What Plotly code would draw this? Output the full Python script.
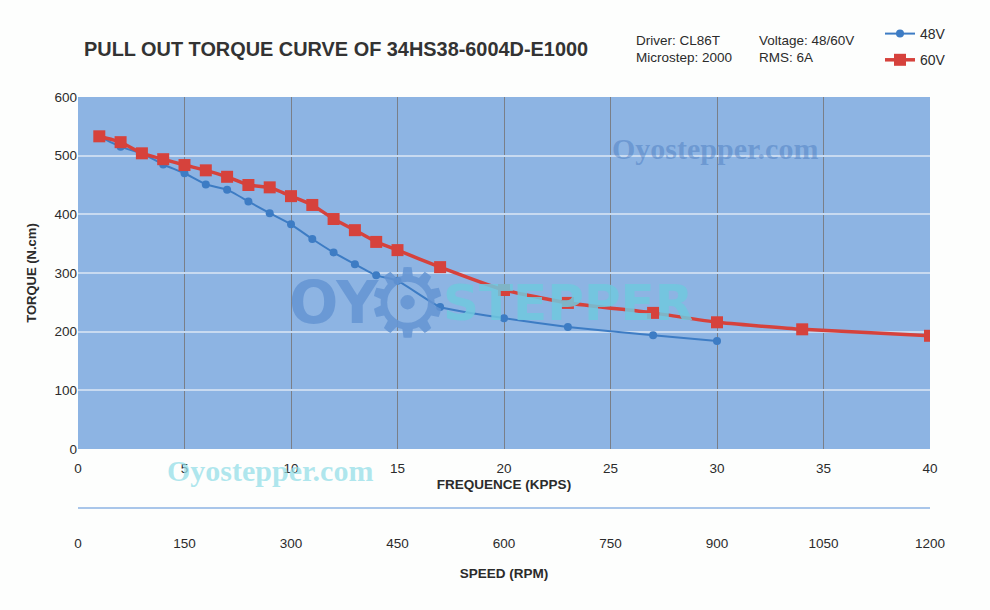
import plotly.graph_objects as go

# ---- data ----
freq_48 = [1, 2, 3, 4, 5, 6, 7, 8, 9, 10, 11, 12, 13, 14, 15, 17, 20, 23, 27, 30]
torque_48 = [533, 515, 504, 485, 470, 451, 442, 422, 402, 383, 358, 335, 315, 296, 287, 242, 223, 208, 194, 184]
freq_60 = [1, 2, 3, 4, 5, 6, 7, 8, 9, 10, 11, 12, 13, 14, 15, 17, 20, 23, 27, 30, 34, 40]
torque_60 = [533, 523, 504, 494, 484, 475, 464, 450, 446, 431, 416, 392, 373, 353, 339, 310, 271, 249, 232, 216, 204, 193]
rpm_per_kpps = 30  # 2000 microsteps: 1 kpps = 30 rpm
freq_ticks = [0, 5, 10, 15, 20, 25, 30, 35, 40]
rpm_ticks = [0, 150, 300, 450, 600, 750, 900, 1050, 1200]
torque_ticks = [0, 100, 200, 300, 400, 500, 600]

BLUE = "#3d7cc4"
RED = "#d6423c"
FONT = "Liberation Sans, Arial, sans-serif"
TXT = "#2b2b2b"

fig = go.Figure()
fig.add_trace(go.Scatter(
    x=freq_48, y=torque_48, name="48V", mode="lines+markers", legendgroup="a",
    line=dict(color=BLUE, width=2, shape="spline", smoothing=0.4),
    marker=dict(symbol="circle", size=8, color=BLUE),
))
fig.add_trace(go.Scatter(
    x=freq_60, y=torque_60, name="60V", mode="lines+markers", legendgroup="b",
    line=dict(color=RED, width=3.5, shape="spline", smoothing=0.4),
    marker=dict(symbol="square", size=12, color=RED),
))
# invisible trace carrying the speed axis
fig.add_trace(go.Scatter(
    x=[f * rpm_per_kpps for f in freq_60], y=torque_60, xaxis="x2",
    mode="lines", opacity=0, showlegend=False, hoverinfo="skip",
))

H = 610
top, bot = 97, 590
ph = bot - top
ydom0 = (bot - 449) / ph
x2pos = (bot - 508) / ph


def px(xp):
    return (xp - 78) / 852


def py(yp):
    return (bot - yp) / ph


fig.update_layout(
    width=990, height=610,
    margin=dict(l=78, r=60, t=top, b=H - bot),
    paper_bgcolor="#fdfefd",
    plot_bgcolor="#8db4e3",
    font=dict(family=FONT, size=13, color=TXT),
    showlegend=True,
    legend=dict(x=px(880), xanchor="left", y=py(18), yanchor="top",
                bgcolor="rgba(0,0,0,0)", font=dict(size=14, color=TXT),
                itemwidth=30, tracegroupgap=5),
    title=dict(text="<b>PULL OUT TORQUE CURVE OF 34HS38-6004D-E1000</b>",
               xref="container", yref="container", x=84 / 990, xanchor="left",
               y=1 - 49 / H, yanchor="middle",
               font=dict(size=19.9, color="#333333", family=FONT)),
    xaxis=dict(range=[0, 40], tickvals=freq_ticks, showgrid=True,
               gridcolor="#7a7f88", gridwidth=1, zeroline=False,
               showline=False, ticks="", tickfont=dict(size=13.5, color=TXT),
               ticklabelstandoff=9,
               title=dict(text="<b>FREQUENCE (KPPS)</b>", standoff=5,
                          font=dict(size=13.5, color=TXT)),
               anchor="y"),
    yaxis=dict(range=[0, 600], tickvals=torque_ticks, domain=[ydom0, 1],
               showgrid=True, gridcolor="#c8daf0", gridwidth=1.5, zeroline=False,
               ticks="", tickfont=dict(size=13.5, color=TXT),
               title=dict(text="<b>TORQUE (N.cm)</b>", standoff=14,
                          font=dict(size=13, color=TXT))),
    xaxis2=dict(range=[0, 1200], tickvals=rpm_ticks, anchor="free",
                position=x2pos, overlaying="x", side="bottom",
                showgrid=False, zeroline=False, showline=True,
                linecolor="#a9c6ea", linewidth=2, ticks="",
                ticklabelstandoff=23, tickfont=dict(size=13.5, color=TXT),
                title=dict(text="<b>SPEED (RPM)</b>", standoff=17,
                           font=dict(size=13.5, color=TXT))),
)

# info text
info = [("Driver: CL86T", 634, 40), ("Microstep: 2000", 634, 58),
        ("Voltage: 48/60V", 757, 40), ("RMS: 6A", 757, 58)]
for t, xp, yp in info:
    fig.add_annotation(text=t, xref="paper", yref="paper",
                       x=px(xp), y=py(yp),
                       xanchor="left", yanchor="middle", showarrow=False,
                       font=dict(size=13.5, color=TXT))

# watermarks
SERIF = "Liberation Serif, DejaVu Serif, serif"
fig.add_annotation(text="<b>Oyostepper.com</b>", xref="paper", yref="paper",
                   x=px(715), y=py(148), xanchor="center", yanchor="middle",
                   showarrow=False,
                   font=dict(family=SERIF, size=30, color="rgba(70,120,190,0.45)"))
fig.add_annotation(text="<b>Oyostepper.com</b>", xref="paper", yref="paper",
                   x=px(270), y=py(470), xanchor="center", yanchor="middle",
                   showarrow=False,
                   font=dict(family=SERIF, size=30, color="rgba(150,222,232,0.75)"))
fig.add_annotation(text="<b>OY</b>", xref="paper", yref="paper",
                   x=px(334), y=py(303), xanchor="center", yanchor="middle",
                   showarrow=False,
                   font=dict(family="DejaVu Sans, sans-serif", size=58,
                             color="rgba(100,148,210,0.85)"))
fig.add_annotation(text="⚙", xref="paper", yref="paper",
                   x=px(407), y=py(303), xanchor="center", yanchor="middle",
                   showarrow=False,
                   font=dict(family="DejaVu Sans, sans-serif", size=95,
                             color="rgba(100,148,210,0.85)"))
fig.add_annotation(text="<b>STEPPER</b>", xref="paper", yref="paper",
                   x=px(568), y=py(303), xanchor="center", yanchor="middle",
                   showarrow=False,
                   font=dict(family="DejaVu Sans, sans-serif", size=50,
                             color="rgba(112,200,222,0.85)"))

fig.write_html("out.html")
